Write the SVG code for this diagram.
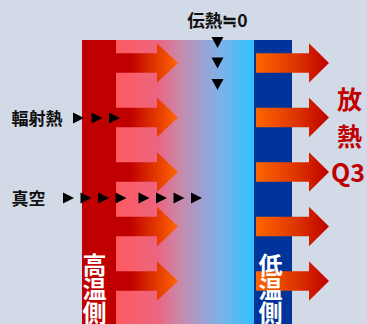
<svg xmlns="http://www.w3.org/2000/svg" width="367" height="324" viewBox="0 0 367 324">
<defs>
<linearGradient id="mid" gradientUnits="userSpaceOnUse" x1="116" y1="0" x2="254" y2="0">
<stop offset="0" stop-color="#ff5a5f"/>
<stop offset="0.3" stop-color="#ec6480"/>
<stop offset="0.47" stop-color="#c88aad"/>
<stop offset="0.62" stop-color="#a0a0d2"/>
<stop offset="0.76" stop-color="#7cb2e8"/>
<stop offset="1" stop-color="#2ec2ff"/>
</linearGradient>
<linearGradient id="la" gradientUnits="userSpaceOnUse" x1="130" y1="0" x2="178" y2="0">
<stop offset="0" stop-color="#c00000"/>
<stop offset="1" stop-color="#ff6600"/>
</linearGradient>
<linearGradient id="ra" gradientUnits="userSpaceOnUse" x1="256" y1="0" x2="329" y2="0">
<stop offset="0" stop-color="#ff6600"/>
<stop offset="0.5" stop-color="#e03a00"/>
<stop offset="1" stop-color="#c00000"/>
</linearGradient>
<path id="lar" d="M82,-9.7 L157,-9.7 L157,-19.7 L178,0 L157,19.7 L157,9.7 L82,9.7 Z"/>
<path id="rar" d="M256,-9.7 L309,-9.7 L309,-19.7 L329,0 L309,19.7 L309,9.7 L256,9.7 Z"/>
<path id="tr" d="M0,-5.5 L11,0 L0,5.5 Z"/>
<path id="td" d="M-6,0 L6,0 L0,11 Z"/>
</defs>
<style>
.lbl{font-family:"Noto Sans CJK JP","Noto Sans",sans-serif;font-weight:bold;}
</style>
<rect x="0" y="0" width="367" height="324" fill="#d2d9e7"/>
<g id="hot-wall">
<rect x="82" y="40" width="34" height="284" fill="#c00000"/>
</g>
<g id="vacuum">
<rect x="116" y="40" width="138" height="284" fill="url(#mid)"/>
</g>
<g id="cold-wall">
<rect x="254" y="40" width="38" height="284" fill="#00349a"/>
</g>
<g id="connectors">
<g fill="url(#la)">
<use href="#lar" y="63"/>
<use href="#lar" y="117.5"/>
<use href="#lar" y="172"/>
<use href="#lar" y="226.5"/>
<use href="#lar" y="281"/>
</g>
<g fill="url(#ra)">
<use href="#rar" y="63"/>
<use href="#rar" y="117.5"/>
<use href="#rar" y="172"/>
<use href="#rar" y="226.5"/>
<use href="#rar" y="281"/>
</g>
<g fill="#000">
<use href="#td" x="217.5" y="37"/>
<use href="#td" x="217.5" y="57.5"/>
<use href="#td" x="217.5" y="79"/>
<use href="#tr" x="73" y="118"/>
<use href="#tr" x="91.5" y="118"/>
<use href="#tr" x="109" y="118"/>
<use href="#tr" x="63" y="198"/>
<use href="#tr" x="80.5" y="198"/>
<use href="#tr" x="98" y="198"/>
<use href="#tr" x="115.5" y="198"/>
<use href="#tr" x="138.5" y="198"/>
<use href="#tr" x="156" y="198"/>
<use href="#tr" x="173.5" y="198"/>
<use href="#tr" x="191" y="198"/>
</g>
</g>
<g id="label-conduction">
<text class="lbl" x="217.5" y="27" font-size="17.5" text-anchor="middle" fill="#111">伝熱≒0</text>
</g>
<g id="label-radiation">
<text class="lbl" x="11.5" y="124.5" font-size="17" fill="#111">輻射熱</text>
</g>
<g id="label-vacuum">
<text class="lbl" x="11.5" y="204.5" font-size="17" fill="#111">真空</text>
</g>
<g id="label-release" class="lbl" fill="#c00000" font-size="25" text-anchor="middle">
<text x="349.5" y="108.5">放</text>
<text x="349.5" y="146">熱</text>
<text x="348" y="182">Q3</text>
</g>
<g id="label-hot" class="lbl" fill="#fff" font-size="24" text-anchor="middle">
<text x="94.5" y="274">高</text>
<text x="94.5" y="298">温</text>
<text x="94.5" y="322">側</text>
</g>
<g id="label-cold" class="lbl" fill="#fff" font-size="24" text-anchor="middle">
<text x="270.5" y="274">低</text>
<text x="270.5" y="298">温</text>
<text x="270.5" y="322">側</text>
</g>
</svg>
